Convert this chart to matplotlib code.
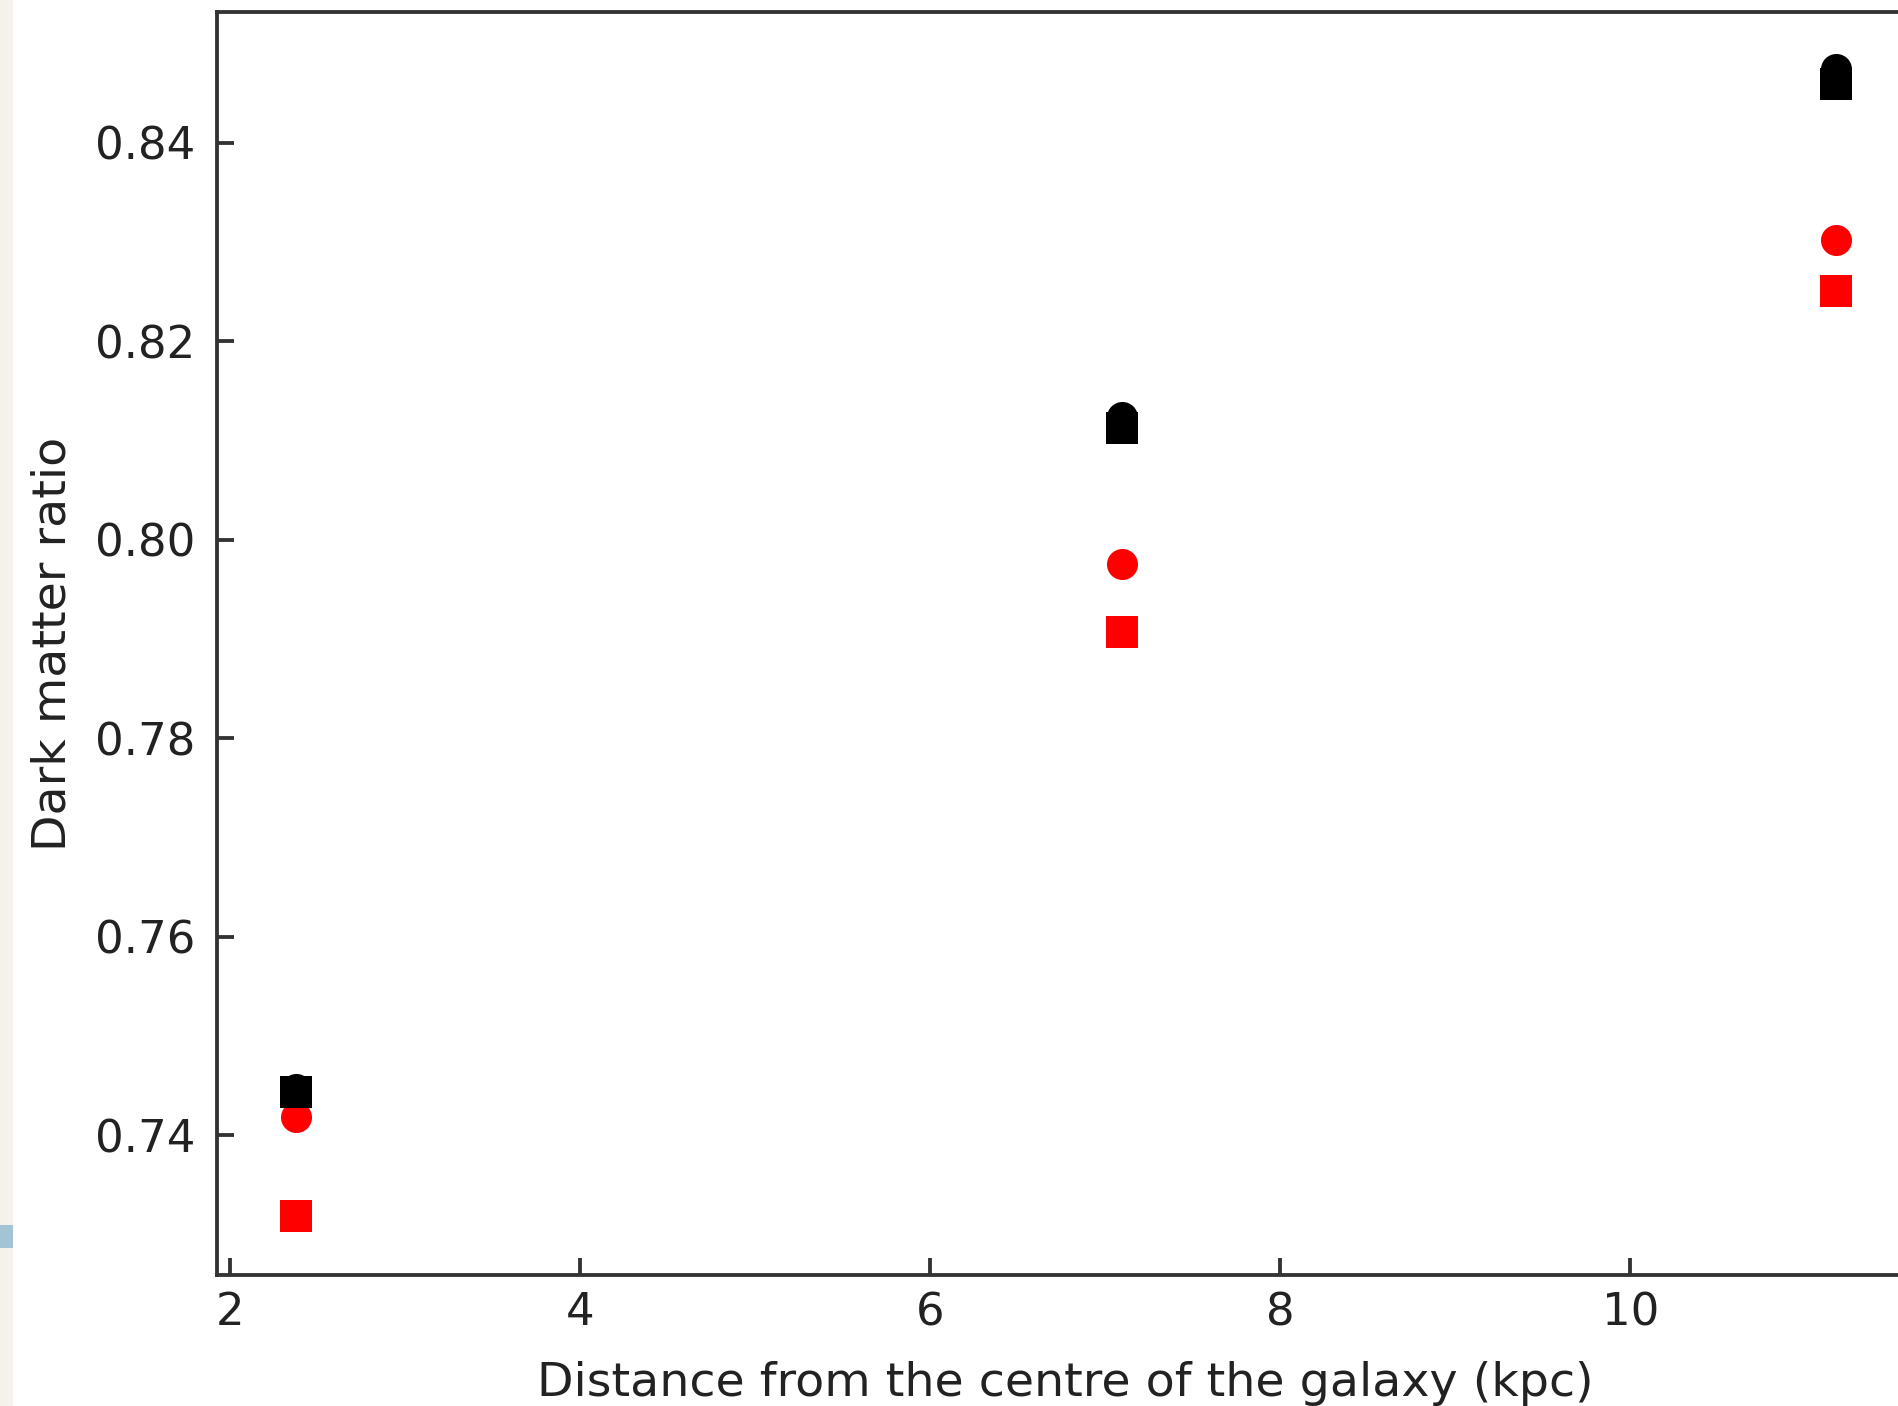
import matplotlib
matplotlib.use("Agg")
import matplotlib.pyplot as plt
from matplotlib.patches import Rectangle

# Data
distance_kpc = [2.377, 7.098, 11.177]
black_circle = [0.7446, 0.8124, 0.8475]
black_square = [0.7443, 0.8113, 0.8459]
red_circle = [0.7418, 0.7976, 0.8302]
red_square = [0.7318, 0.7907, 0.8251]

x_ticks = [2, 4, 6, 8, 10]
y_ticks = [0.74, 0.76, 0.78, 0.80, 0.82, 0.84]

S = 3.24  # scale factor relative to default matplotlib sizes
plt.rcParams['font.family'] = ['DejaVu Sans']

fig = plt.figure(figsize=(18.98, 14.06), dpi=100)
fig.patch.set_facecolor('white')
# left page background strip
fig.patches.append(Rectangle((0, 0), 13 / 1898, 1, transform=fig.transFigure,
                             facecolor='#f4f2ea', edgecolor='none', zorder=0))
fig.patches.append(Rectangle((0, (1406 - 1248) / 1406), 13 / 1898, 23 / 1406,
                             transform=fig.transFigure, facecolor='#a2c4d4',
                             edgecolor='none', zorder=1))

ax = fig.add_axes([217 / 1898, (1406 - 1275) / 1406, (1914 - 217) / 1898, (1275 - 12) / 1406])

ms = 6.9 * S
ax.plot(distance_kpc, red_circle, 'o', color='red', markersize=ms, markeredgewidth=0)
ax.plot(distance_kpc, red_square, 's', color='red', markersize=ms, markeredgewidth=0)
ax.plot(distance_kpc, black_circle, 'o', color='black', markersize=ms, markeredgewidth=0)
ax.plot(distance_kpc, black_square, 's', color='black', markersize=ms, markeredgewidth=0)

ax.set_xlim(1.926, 11.62)
ax.set_ylim(0.7259, 0.8532)
ax.set_xticks(x_ticks)
ax.set_yticks(y_ticks)
ax.set_xticklabels([str(v) for v in x_ticks])
ax.set_yticklabels([f"{v:.2f}" for v in y_ticks])

for sp in ax.spines.values():
    sp.set_linewidth(0.85 * S)
    sp.set_color('#333333')

ax.tick_params(axis='both', direction='in', length=3.8 * S, width=0.85 * S,
               color='#333333', labelsize=10 * S, labelcolor='#222222')
ax.tick_params(axis='y', pad=4.8 * S)
ax.tick_params(axis='x', pad=3.6 * S)

ax.set_xlabel('Distance from the centre of the galaxy (kpc)', fontsize=10.55 * S,
              color='#222222', labelpad=5.9 * S)
ax.set_ylabel('Dark matter ratio', fontsize=10.55 * S, color='#222222', labelpad=4.4 * S)

fig.savefig('out.png', dpi=100, facecolor=fig.get_facecolor())
